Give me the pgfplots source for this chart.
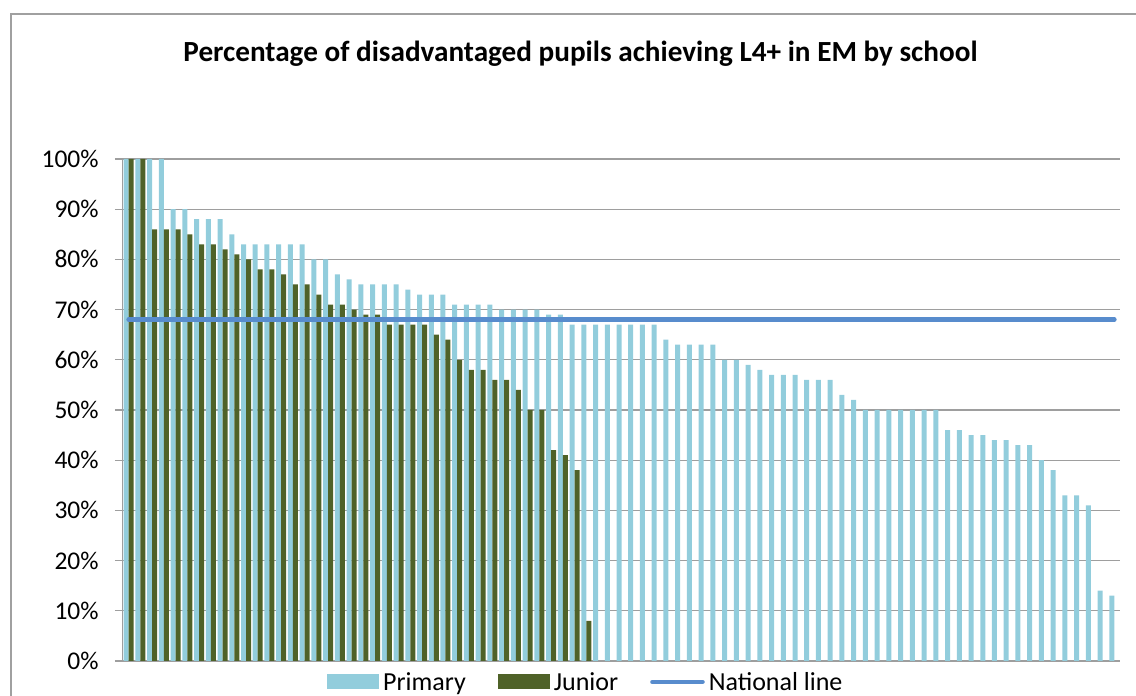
\documentclass[border=0pt]{standalone}
\usepackage{fontspec}
\setmainfont{Carlito}
\usepackage{pgfplots}
\usepackage{pgfplotstable}
\pgfplotsset{compat=1.18}
\definecolor{primary}{RGB}{146,205,220}
\definecolor{junior}{RGB}{79,98,40}
\definecolor{natline}{RGB}{88,140,205}
\definecolor{gridgray}{RGB}{158,158,158}
\definecolor{framegray}{RGB}{160,160,160}

\pgfplotstableread{
x y
0 100
1 100
2 100
3 100
4 90
5 90
6 88
7 88
8 88
9 85
10 83
11 83
12 83
13 83
14 83
15 83
16 80
17 80
18 77
19 76
20 75
21 75
22 75
23 75
24 74
25 73
26 73
27 73
28 71
29 71
30 71
31 71
32 70
33 70
34 70
35 70
36 69
37 69
38 67
39 67
40 67
41 67
42 67
43 67
44 67
45 67
46 64
47 63
48 63
49 63
50 63
51 60
52 60
53 59
54 58
55 57
56 57
57 57
58 56
59 56
60 56
61 53
62 52
63 50
64 50
65 50
66 50
67 50
68 50
69 50
70 46
71 46
72 45
73 45
74 44
75 44
76 43
77 43
78 40
79 38
80 33
81 33
82 31
83 14
84 13
}\primarytable

\pgfplotstableread{
x y
0 100
1 100
2 86
3 86
4 86
5 85
6 83
7 83
8 82
9 81
10 80
11 78
12 78
13 77
14 75
15 75
16 73
17 71
18 71
19 70
20 69
21 69
22 67
23 67
24 67
25 67
26 65
27 64
28 60
29 58
30 58
31 56
32 56
33 54
34 50
35 50
36 42
37 41
38 38
39 8
}\juniortable

\pgfplotstableread{
x y
0 68
84 68
}\nationaltable

\begin{document}
\begin{tikzpicture}[x=1pt,y=1pt]
\useasboundingbox (0,0) rectangle (1136,696);
\draw[framegray, line width=1.2pt] (11,-30) -- (11,682) -- (1170,682);
\node[font=\bfseries\fontsize{29.2}{34}\selectfont, anchor=base, inner sep=0pt] at (580.5,634) {Percentage of disadvantaged pupils achieving L4+ in EM by school};
\begin{axis}[
  at={(122.8pt,35pt)}, anchor=south west,
  scale only axis, width=997.4pt, height=502pt,
  xmin=-0.5, xmax=84.5, ymin=0, ymax=100,
  ytick={0,10,...,100}, xtick=\empty,
  ymajorgrids, grid style={gridgray, line width=1.3pt},
  axis x line*=bottom, axis y line*=left,
  axis line style={gridgray, line width=1.3pt, -},
  tick align=outside, major tick length=8pt,
  ytick style={gridgray, line width=1.3pt},
  yticklabel={\pgfmathprintnumber{\tick}\%},
  /pgf/number format/assume math mode=true,
  tick label style={font=\fontsize{25.5}{30}\selectfont, black},
  yticklabel style={inner xsep=0pt, xshift=-16pt},
  legend columns=3,
  legend style={at={(0.2047,-0.0418)}, anchor=west, draw=none, fill=none,
    font=\fontsize{26}{30}\selectfont, inner sep=0pt,
    nodes={inner xsep=4pt, inner ysep=0pt},
    /tikz/every even column/.append style={column sep=28pt}},
]
\addplot[ybar, bar width=0.426, bar shift=-0.213, fill=primary, draw=none,
  legend image code/.code={\fill[primary] (0pt,-7.5pt) rectangle (52pt,7.5pt);}]
  table[x=x, y=y] {\primarytable};
\addlegendentry{Primary}
\addplot[ybar, bar width=0.426, bar shift=0.213, fill=junior, draw=none,
  legend image code/.code={\fill[junior] (0pt,-7.5pt) rectangle (52pt,7.5pt);}]
  table[x=x, y=y] {\juniortable};
\addlegendentry{Junior}
\addplot[natline, line width=4.6pt, line cap=round, mark=none,
  legend image code/.code={\draw[natline, line width=4.6pt, line cap=round] (2.5pt,0pt) -- (52.5pt,0pt);}]
  table[x=x, y=y] {\nationaltable};
\addlegendentry{National line}
\end{axis}
\end{tikzpicture}
\end{document}
